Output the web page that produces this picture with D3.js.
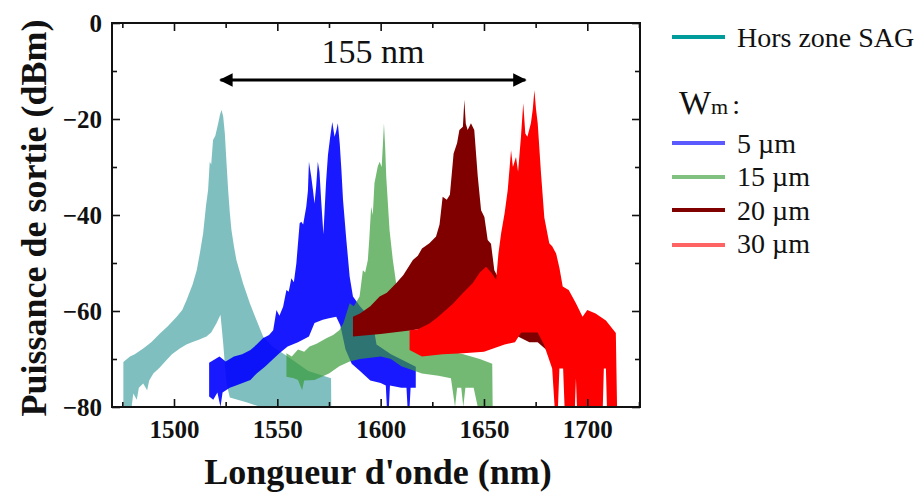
<!DOCTYPE html>
<html><head><meta charset="utf-8">
<script src="https://cdn.jsdelivr.net/npm/d3@7"></script>
<style>html,body{margin:0;padding:0;background:#fff;} svg{display:block;}</style>
</head><body>
<svg id="chart" width="924" height="493"></svg>
<script>
// ---------- data (wavelength nm, power dBm) : upper and lower envelopes of each spectrum ----------
const hzUpper = [[1475.5,-80],[1475.5,-70.6],[1478.7,-69.5],[1481,-69],[1485.1,-67.8],[1489,-66.5],[1493.2,-64.7],[1497,-63.2],[1501.3,-61.2],[1504,-59.8],[1506.1,-57.7],[1509,-54.5],[1511,-51.5],[1512.5,-48],[1514.1,-43.8],[1515.5,-38],[1516.5,-34.8],[1517.3,-28.9],[1518,-29.5],[1518.9,-24.4],[1520,-23.5],[1521.4,-20.9],[1522.3,-19],[1523,-18.1],[1523.8,-19.5],[1524.6,-23],[1525.4,-29],[1526.2,-34.8],[1527,-39.5],[1527.8,-43.1],[1529,-46.5],[1530.2,-49.4],[1533.4,-54.2],[1536.7,-58.4],[1539.9,-61.9],[1543.1,-65.3],[1548,-67.5],[1555,-69.5],[1565,-72.5],[1576,-74],[1576.1,-80]];
const hzLower = [[1475.5,-80],[1479.5,-80],[1480.3,-77.2],[1482,-78.5],[1483,-76],[1485.1,-75.1],[1487,-76.5],[1488,-74.5],[1490,-73],[1493,-71.8],[1496.4,-70.2],[1499,-69],[1502.8,-67.8],[1506,-67],[1509.3,-66.4],[1512,-66],[1515.7,-65.3],[1518,-64.5],[1520.5,-62.6],[1522.5,-60.8],[1523.8,-66.7],[1524.6,-71],[1525.4,-75],[1527,-78],[1535,-79],[1542,-80],[1576.1,-80]];

const w5Upper = [[1517,-77.8],[1517,-70.8],[1520,-70],[1522,-69.5],[1525,-70.5],[1529,-69.5],[1533,-69],[1537,-68.1],[1540,-67],[1543,-65.7],[1546,-65],[1548,-64],[1549.6,-59.8],[1551,-61],[1552.8,-59.1],[1554.4,-55.6],[1555.5,-56],[1556.8,-53.2],[1558,-54],[1559.2,-50.1],[1560.8,-41.7],[1561.6,-41.4],[1562.5,-42],[1564,-38.3],[1564.8,-35],[1565.3,-28.9],[1566.4,-32],[1567.3,-35],[1568,-37.6],[1568.8,-34],[1569.6,-28.9],[1570.4,-31],[1571.2,-36.9],[1572.3,-44],[1573,-38],[1573.6,-33],[1574.5,-27.5],[1575.5,-24],[1576.6,-20.6],[1577.7,-23.7],[1578.5,-22.5],[1579.3,-20.9],[1580.2,-25.1],[1581,-30.5],[1581.8,-36.9],[1583.4,-45.2],[1585,-52.8],[1586.6,-57],[1590,-59],[1594,-61],[1596,-62],[1598,-67],[1605,-69],[1612,-70.5],[1617,-71.6],[1617,-76]];
const w5Lower = [[1517,-77.8],[1519,-78.5],[1521,-77],[1522.5,-80],[1523.5,-77],[1527,-76],[1530,-75.5],[1537,-74.4],[1540,-73],[1544,-71.6],[1548,-70],[1551,-68.8],[1555,-67.4],[1560,-66.5],[1565.3,-65.3],[1568,-62.5],[1572,-61.8],[1575,-61.5],[1578.5,-61.2],[1580.5,-63],[1583,-68],[1586,-71],[1590,-72.5],[1595,-74.5],[1600,-75],[1602.5,-75.5],[1603,-80],[1604,-80],[1604.5,-75.5],[1610,-76],[1612.5,-76],[1613,-80],[1614,-80],[1614.5,-76],[1617,-76]];

const w15Upper = [[1554.4,-73.7],[1554.4,-68.8],[1557,-69.5],[1560,-68],[1563,-68.5],[1565.6,-67.4],[1569,-66.8],[1573.7,-65.7],[1577,-65],[1580,-64],[1582,-62.5],[1585,-58.4],[1587,-59],[1589.8,-57],[1591.4,-51.5],[1592.5,-52],[1593.8,-49.4],[1594.5,-45],[1595.4,-38.3],[1596.2,-40],[1597,-33.4],[1598.6,-29.9],[1599.5,-28.9],[1600.5,-30],[1601,-26],[1601.6,-20.9],[1602.2,-26],[1602.7,-32],[1604.3,-43.1],[1605.9,-49.4],[1607.5,-54.2],[1610,-58],[1615,-63],[1620,-66],[1630,-68],[1640,-69],[1648,-70],[1654,-71],[1654.2,-80]];
const w15Lower = [[1554.4,-73.7],[1558,-74],[1560,-74.4],[1562,-76.5],[1563,-74.5],[1568,-74.4],[1575,-73],[1580,-71.5],[1585,-70.5],[1590,-70],[1600,-69.5],[1605,-70],[1610,-71.5],[1620,-73],[1628,-73.5],[1634,-74],[1636,-80],[1637,-76],[1639,-76],[1640,-80],[1641,-76],[1645,-76],[1647,-80],[1654.2,-80]];

const w20Upper = [[1586.6,-65.3],[1586.6,-61.2],[1590,-60.5],[1595,-59],[1599.5,-57],[1603,-56.2],[1607.5,-54.2],[1611,-52.5],[1615.6,-49.4],[1618,-48.5],[1620,-47],[1623.6,-45.9],[1626.8,-44.5],[1628.5,-42],[1630,-36.2],[1632,-36.8],[1633.5,-35.8],[1635.3,-27.2],[1637,-25],[1638.1,-22.3],[1639.8,-21.6],[1640.5,-16],[1641.2,-21],[1642.1,-22.3],[1643.7,-20.9],[1645.3,-22.3],[1647,-32],[1648.6,-39],[1650.2,-40.4],[1651.8,-45.2],[1653.4,-46],[1655,-51.5],[1656.6,-52.8],[1660,-56],[1665,-59],[1670,-61.5],[1675,-62.5],[1680,-65],[1680,-68]];
const w20Lower = [[1586.6,-65.3],[1600,-64.8],[1615,-64],[1630,-63],[1645,-62.5],[1655,-63],[1665,-65],[1672,-66.5],[1676,-66.5],[1680,-68]];

const w30Upper = [[1614,-68.1],[1614,-64],[1618,-63.8],[1623.6,-62.6],[1627,-61.5],[1631.6,-59.8],[1635,-58.5],[1639.7,-56.3],[1644.5,-54.2],[1648,-52],[1651,-50.8],[1653.5,-52],[1655.9,-53.5],[1657,-48],[1658.3,-43.8],[1660,-39.6],[1661.5,-34.8],[1663.1,-26.5],[1664,-30],[1665.5,-27.9],[1666.5,-31],[1667.9,-23.7],[1669,-16.7],[1670,-23],[1671,-23.7],[1672.7,-20.9],[1673.6,-18],[1674.4,-14],[1675.2,-18],[1676,-20.9],[1677.6,-31.3],[1679.2,-40.5],[1681.6,-45.9],[1683,-46.5],[1684.9,-48],[1686.5,-51],[1688.1,-54.9],[1691,-55.6],[1694.5,-58.4],[1697.7,-61.2],[1700,-59.8],[1704,-60.5],[1709,-62],[1713.8,-64.6],[1714.4,-80]];
const w30Lower = [[1614,-68.1],[1620,-69.5],[1630,-69],[1640,-68.8],[1650,-68.5],[1660,-67],[1665,-66.5],[1668,-64.5],[1676,-64.5],[1679,-67],[1681,-69.5],[1683,-72],[1684.2,-80],[1685.8,-80],[1686.5,-72],[1688.3,-72],[1689,-80],[1694,-80],[1694.5,-74],[1695,-80],[1707.5,-80],[1708,-72],[1709,-72],[1709.5,-80],[1714.4,-80]];

const seriesNames = ["Hors zone SAG","5 µm","15 µm","20 µm","30 µm"];
const xMajorTicks = [1500,1550,1600,1650,1700];
const xMinorTicks = [1475,1525,1575,1625,1675,1725];
const yMajorTicks = [0,-20,-40,-60,-80];
const yMinorTicks = [-10,-30,-50,-70];
const spanLabel = "155 nm";
const spanFrom = 1522.5, spanTo = 1670, spanLevel = -11.9;

// ---------- drawing ----------
const svg = d3.select("#chart");
const W = 924, H = 493;
svg.append("rect").attr("width",W).attr("height",H).attr("fill","#fff");
const m = {left:112, top:23, right:640, bottom:407};
const x = d3.scaleLinear().domain([1470,1725.5]).range([m.left,m.right]);
const y = d3.scaleLinear().domain([-80,0]).range([m.bottom,m.top]);
const serif = "'Liberation Serif','Times New Roman',Times,serif";

svg.append("defs").append("clipPath").attr("id","clip")
  .append("rect").attr("x",m.left).attr("y",m.top).attr("width",m.right-m.left).attr("height",m.bottom-m.top);

const series = [
  {name:seriesNames[0], up:hzUpper, lo:hzLower, fill:"#008080", op:0.5, legend:"#009c9c"},
  {name:seriesNames[1], up:w5Upper, lo:w5Lower, fill:"#0000ff", op:0.9, legend:"#5a5aff"},
  {name:seriesNames[2], up:w15Upper, lo:w15Lower, fill:"#379b37", op:0.7, legend:"#80c080"},
  {name:seriesNames[3], up:w20Upper, lo:w20Lower, fill:"#800000", op:1, legend:"#800000"},
  {name:seriesNames[4], up:w30Upper, lo:w30Lower, fill:"#ff0000", op:1, legend:"#ff6464"}
];
const line = d3.line().x(d=>x(d[0])).y(d=>y(d[1]));
const g = svg.append("g").attr("clip-path","url(#clip)");
series.forEach(s=>{
  const poly = s.up.concat(s.lo.slice().reverse());
  g.append("path").attr("d", line(poly)+"Z")
    .attr("fill", s.fill).attr("fill-opacity", s.op)
    .attr("stroke", "none");
});

// axes
function styleAxis(sel){
  sel.select(".domain").remove();
  sel.selectAll(".tick line").attr("stroke","#111").attr("stroke-width",1.6);
  sel.selectAll(".tick text").attr("font-family",serif).attr("font-weight","bold").attr("font-size",25).attr("fill","#111");
}
svg.append("g").attr("transform",`translate(0,${m.bottom})`)
  .call(d3.axisBottom(x).tickValues(xMajorTicks).tickSize(-8).tickPadding(13).tickFormat(d3.format("d"))).call(styleAxis);
svg.append("g").attr("transform",`translate(0,${m.bottom})`)
  .call(d3.axisBottom(x).tickValues(xMinorTicks.filter(v=>v<=1725.5)).tickSize(-5).tickFormat("")).call(styleAxis);
svg.append("g").attr("transform",`translate(0,${m.top})`)
  .call(d3.axisTop(x).tickValues(xMajorTicks).tickSize(-8).tickFormat("")).call(styleAxis);
svg.append("g").attr("transform",`translate(0,${m.top})`)
  .call(d3.axisTop(x).tickValues(xMinorTicks.filter(v=>v<=1725.5)).tickSize(-5).tickFormat("")).call(styleAxis);
svg.append("g").attr("transform",`translate(${m.left},0)`)
  .call(d3.axisLeft(y).tickValues(yMajorTicks).tickSize(-8).tickPadding(10).tickFormat(d3.format("d"))).call(styleAxis);
svg.append("g").attr("transform",`translate(${m.left},0)`)
  .call(d3.axisLeft(y).tickValues(yMinorTicks).tickSize(-5).tickFormat("")).call(styleAxis);
svg.append("g").attr("transform",`translate(${m.right},0)`)
  .call(d3.axisRight(y).tickValues(yMajorTicks).tickSize(-8).tickFormat("")).call(styleAxis);
svg.append("g").attr("transform",`translate(${m.right},0)`)
  .call(d3.axisRight(y).tickValues(yMinorTicks).tickSize(-5).tickFormat("")).call(styleAxis);

svg.append("rect").attr("x",m.left).attr("y",m.top).attr("width",m.right-m.left).attr("height",m.bottom-m.top)
  .attr("fill","none").attr("stroke","#111").attr("stroke-width",2);

// titles
svg.append("text").attr("x",(m.left+m.right)/2+2).attr("y",484).attr("text-anchor","middle")
  .attr("font-family",serif).attr("font-weight","bold").attr("font-size",36).attr("fill","#111")
  .text("Longueur d'onde (nm)");
svg.append("text").attr("transform",`translate(46,${(m.top+m.bottom)/2+3}) rotate(-90)`).attr("text-anchor","middle")
  .attr("font-family",serif).attr("font-weight","bold").attr("font-size",36).attr("fill","#111")
  .text("Puissance de sortie (dBm)");

// span arrow
const defs = svg.select("defs");
defs.append("marker").attr("id","ah").attr("viewBox","0 0 10 10").attr("refX",9).attr("refY",5)
  .attr("markerWidth",5.5).attr("markerHeight",4.5).attr("markerUnits","strokeWidth").attr("orient","auto-start-reverse")
  .append("path").attr("d","M0,0 L10,5 L0,10 z").attr("fill","#000");
svg.append("line").attr("x1",x(spanFrom)).attr("x2",x(spanTo)).attr("y1",y(spanLevel)).attr("y2",y(spanLevel))
  .attr("stroke","#000").attr("stroke-width",3).attr("marker-start","url(#ah)").attr("marker-end","url(#ah)");
svg.append("text").attr("x",(x(spanFrom)+x(spanTo))/2).attr("y",63).attr("text-anchor","middle")
  .attr("font-family",serif).attr("font-size",34).attr("fill","#111").text(spanLabel);

// legend
const lg = svg.append("g").attr("font-family",serif).attr("fill","#111");
const legendRows = [
  {s:series[0], ly:37, ty:47},
  {s:series[1], ly:143, ty:153},
  {s:series[2], ly:177, ty:186},
  {s:series[3], ly:210, ty:220},
  {s:series[4], ly:245, ty:253}
];
legendRows.forEach(r=>{
  lg.append("line").attr("x1",672).attr("x2",725).attr("y1",r.ly).attr("y2",r.ly)
    .attr("stroke",r.s.legend).attr("stroke-width",4);
  lg.append("text").attr("x",737).attr("y",r.ty).attr("font-size",28).text(r.s.name);
});
const wt = lg.append("text").attr("x",679).attr("y",114).attr("font-size",34);
wt.append("tspan").text("W");
wt.append("tspan").attr("font-size",22).text("m");
wt.append("tspan").attr("font-size",28).attr("dx",4).text(":");
</script>
</body></html>
